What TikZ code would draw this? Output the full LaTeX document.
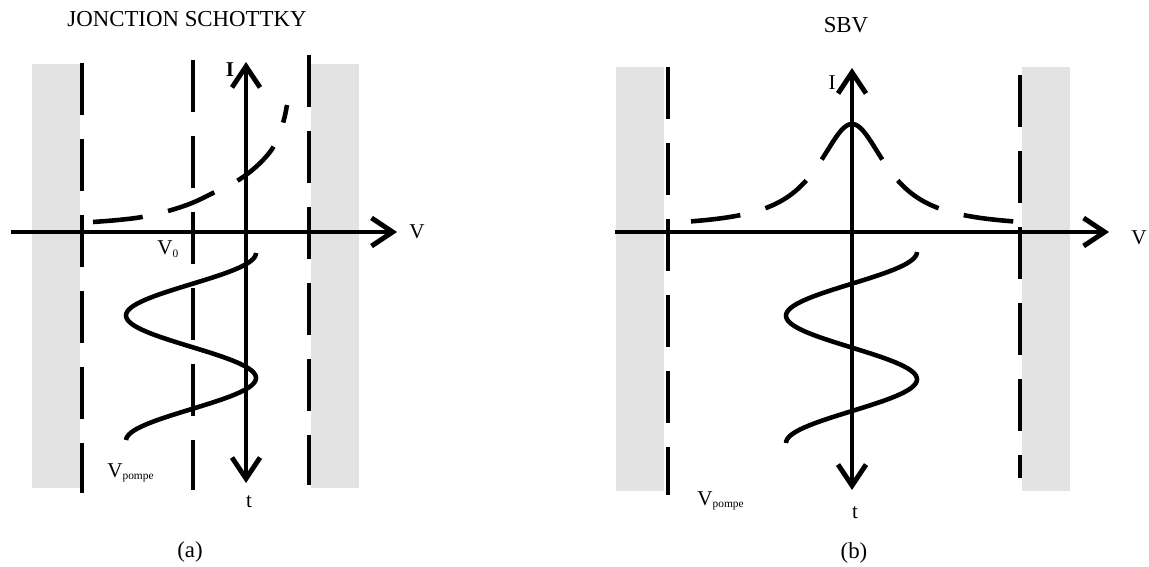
\documentclass[tikz,border=0pt]{standalone}
\usepackage{fontspec}
\setmainfont{Liberation Serif}
\usetikzlibrary{arrows.meta}
\definecolor{wallgrey}{gray}{0.89}
\newcommand{\lowidx}[1]{\raisebox{-0.3ex}{\fontsize{6.5}{7}\selectfont #1}}
\tikzset{
  barb/.tip={Straight Barb[length=0.42cm,width=0.56cm]},
  axisline/.style={line width=2.8pt},
  barrier/.style={line width=2.6pt, dash pattern=on 1.04cm off 0.48cm},
  wave/.style={line width=2.6pt},
  dashwave/.style={wave, dash pattern=on 1cm off 0.52cm},
  wall/.style={fill=wallgrey},
  lbl/.style={inner sep=0pt, font=\fontsize{12}{14}\selectfont},
  ttl/.style={inner sep=0pt, font=\fontsize{13}{15}\selectfont},
}

\begin{document}
\begin{tikzpicture}[x=0.02cm, y=-0.02cm]
\useasboundingbox (0,0) rectangle (1149,567);

%%% (a) jonction schottky
\coordinate (aW) at (11,232);
\coordinate (aE) at (397,232);
\coordinate (aN) at (246,62);
\coordinate (aS) at (246,483);

% metal walls
\fill[wall] (32,64) rectangle (80,488);
\fill[wall] (311,64) rectangle (359,488);

% limits
\draw[barrier] (82,63) -- (82,493);
\draw[barrier] (193,60) -- (193,490);
\draw[barrier] (309,55) -- (309,485);

% axes
\draw[axisline, -barb] (aW) -- (aE);
\draw[axisline, barb-barb] (aS) -- (aN);

% I(V)
\draw[dashwave] plot[smooth, tension=0.6] coordinates {(93,222) (118,220) (142,217) (168,211) (192,203) (213,193) (237,181) (258,165) (274,146) (283,123) (287,105)};
% pump voltage
\draw[wave] plot[domain=253:440, samples=100, variable=\y] ({191+65*cos(2.88*(\y-253))}, {\y});

\node[ttl] (titleA) at (187,19) {JONCTION SCHOTTKY};
\node[lbl, font=\fontsize{12}{14}\selectfont\bfseries] (Ia) at (230,70) {I};
\node[lbl] (Va) at (417,232) {V};
\node[lbl] (ta) at (249,502) {t};
\node[lbl, anchor=base west] (V0a) at (157,255) {V\lowidx{0}};
\node[lbl, anchor=base west] (Vpa) at (107,477) {V\lowidx{pompe}};
\node[ttl] (capA) at (190,552) {(a)};

%%% (b) SBV
\coordinate (bW) at (615,232);
\coordinate (bE) at (1109,232);
\coordinate (bN) at (852,68);
\coordinate (bS) at (852,490);

% metal walls
\fill[wall] (616,67) rectangle (664,491);
\fill[wall] (1022,67) rectangle (1070,491);

% limits
\draw[barrier] (668,67) -- (668,495);
\draw[barrier] (1020,75) -- (1020,478);

% axes
\draw[axisline, -barb] (bW) -- (bE);
\draw[axisline, barb-barb] (bS) -- (bN);

% I(V), symmetric
\draw[dashwave, dash phase=0.04cm] plot[domain=0:161, samples=60, variable=\u] ({852-\u}, {228-104/(1+(\u/42)^2)});
\draw[dashwave, dash phase=0.04cm] plot[domain=0:165, samples=60, variable=\u] ({852+\u}, {228-104/(1+(\u/42)^2)});
% pump voltage
\draw[wave] plot[domain=252:443, samples=100, variable=\y] ({851.5+65.5*cos(2.827*(\y-252))}, {\y});

\node[ttl] (titleB) at (846,25) {SBV};
\node[lbl] (Ib) at (832,83) {I};
\node[lbl] (Vb) at (1139,238) {V};
\node[lbl] (tb) at (855,513) {t};
\node[lbl, anchor=base west] (Vpb) at (697,505) {V\lowidx{pompe}};
\node[ttl] (capB) at (854,553) {(b)};
\end{tikzpicture}
\end{document}
